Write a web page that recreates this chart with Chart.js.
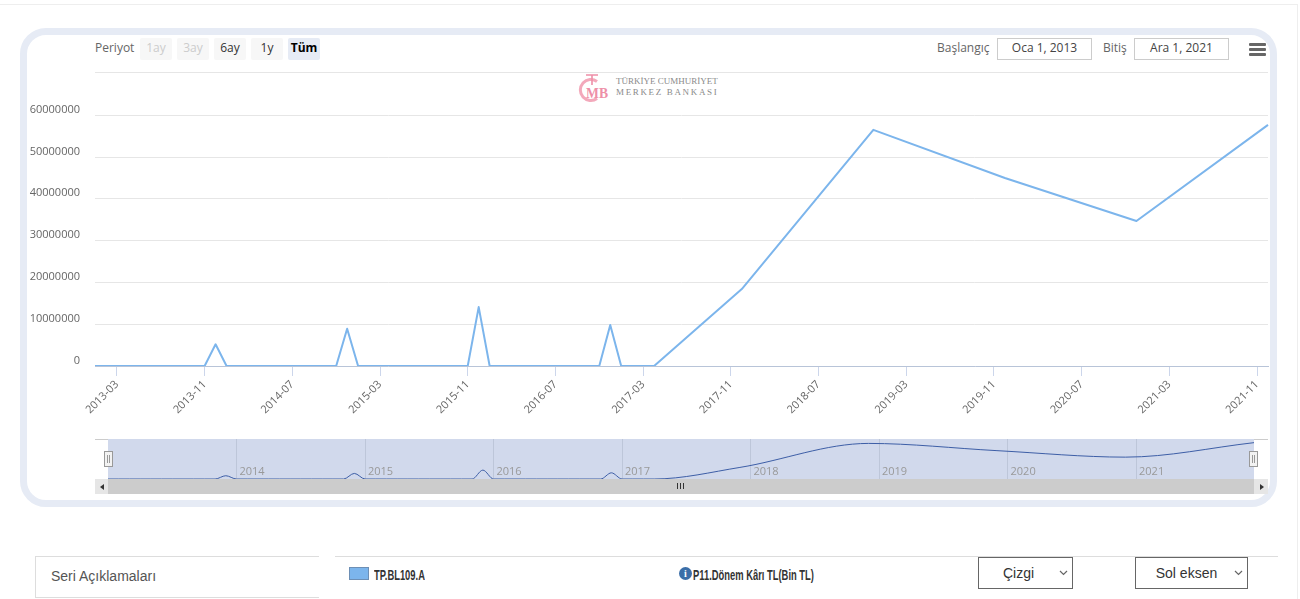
<!DOCTYPE html>
<html lang="tr">
<head>
<meta charset="utf-8">
<title>TP.BL109.A</title>
<script src="https://cdn.jsdelivr.net/npm/chart.js@4"></script>
<style>
  html, body { margin: 0; padding: 0; background: #fff; overflow: hidden; }
  body { width: 1300px; height: 599px; position: relative; font-family: "Open Sans", sans-serif; font-size: 12px; color: #666; }
  .abs { position: absolute; box-sizing: border-box; }
  canvas { position: absolute; left: 0; }
  .btn { top: 38px; width: 32px; height: 22px; line-height: 20px; text-align: center; background: #f7f7f7; color: #333; border-radius: 2px; }
  .btn.off { color: #ccc; }
  .btn.on { background: #e6ebf5; color: #000; font-weight: 700; }
  .date { top: 38px; height: 22px; width: 95px; line-height: 18px; text-align: center; border: 1px solid #ccc; color: #444; }
  .bar { left: 1249px; width: 17px; height: 3px; background: #666; border-radius: 1px; }
  .narrow { font: 700 14px "Liberation Sans", sans-serif; color: #333; top: 567px; white-space: nowrap; transform: scaleX(0.67); transform-origin: left center; }
  select {
    position: absolute; top: 557px; height: 32px; box-sizing: border-box; background: #fff; border: 1px solid #666; color: #333;
    font: 14px "Liberation Sans", sans-serif; text-align: center; text-align-last: center; border-radius: 0;
    appearance: none; -webkit-appearance: none;
    background-image: url("data:image/svg+xml,%3Csvg xmlns='http://www.w3.org/2000/svg' width='9' height='6'%3E%3Cpath d='M1 1l3.5 3.5L8 1' fill='none' stroke='%23666' stroke-width='1.2'/%3E%3C/svg%3E");
    background-repeat: no-repeat; background-position: right 4px center;
  }
</style>
</head>
<body>
<div class="abs" style="left:0;top:4px;width:1297px;height:1px;background:#eee"></div>
<div class="abs" style="left:1297px;top:4px;width:1px;height:595px;background:#eee"></div>
<div class="abs" style="left:20px;top:28px;width:1257px;height:479px;border:7px solid #e6ebf5;border-radius:26px"></div>

<div class="abs" style="left:95px;top:39px">Periyot</div>
<div class="abs btn off" style="left:140px">1ay</div>
<div class="abs btn off" style="left:177px">3ay</div>
<div class="abs btn" style="left:214px">6ay</div>
<div class="abs btn" style="left:251px">1y</div>
<div class="abs btn on" style="left:288px">Tüm</div>
<div class="abs" style="left:937px;top:39px">Başlangıç</div>
<div class="abs date" style="left:997px">Oca 1, 2013</div>
<div class="abs" style="left:1103px;top:39px">Bitiş</div>
<div class="abs date" style="left:1134px">Ara 1, 2021</div>
<div class="abs bar" style="top:43px"></div>
<div class="abs bar" style="top:48px"></div>
<div class="abs bar" style="top:53px"></div>

<!-- top line of the plot, sits a little above where 70M would be -->
<div class="abs" style="left:95px;top:72px;width:1173px;height:1px;background:#e6e6e6"></div>

<!-- logo watermark -->
<svg class="abs" style="left:578px;top:72px" width="32" height="32" viewBox="0 0 32 32">
  <path d="M19 9.5 A10.5 10.5 0 1 0 19 26.5" fill="none" stroke="#f3a9bb" stroke-width="3"/>
  <path d="M8 3 H20 M14 3 V13" fill="none" stroke="#ee8fa8" stroke-width="1.6"/>
  <text x="19" y="26" font-family="Liberation Serif" font-size="14" font-weight="700" fill="#ee8fa8" text-anchor="middle" textLength="22" lengthAdjust="spacingAndGlyphs">MB</text>
</svg>
<div class="abs" style="left:616px;top:76px;font:9px/11px 'Liberation Serif',serif;color:#8a8a8a;white-space:nowrap">TÜRKİYE CUMHURİYET<br><span style="letter-spacing:1.65px">MERKEZ BANKASI</span></div>

<canvas id="mainChart" width="1300" height="430" style="top:0"></canvas>

<!-- navigator background, canvas sits over it -->
<div class="abs" style="left:95px;top:439px;width:1173px;height:1px;background:#ccc"></div>
<div class="abs" style="left:108px;top:439px;width:1146px;height:40px;background:#d1d9ec"></div>
<canvas id="navChart" width="1300" height="60" style="top:430px"></canvas>

<!-- scrollbar -->
<div class="abs" style="left:108px;top:479px;width:1146px;height:15px;background:#ccc"></div>
<div class="abs" style="left:95px;top:479px;width:13px;height:15px;background:#e6e6e6"></div>
<div class="abs" style="left:1254px;top:479px;width:14px;height:15px;background:#e6e6e6"></div>
<div class="abs" style="left:100px;top:484px;border:3px solid transparent;border-right:4px solid #333;border-left:0"></div>
<div class="abs" style="left:1260px;top:484px;border:3px solid transparent;border-left:4px solid #333;border-right:0"></div>
<div class="abs" style="left:677px;top:483px;width:7px;height:6px;border-left:1px solid #333;border-right:1px solid #333"></div>
<div class="abs" style="left:680px;top:483px;width:1px;height:6px;background:#333"></div>
<div class="abs" style="left:104px;top:451px;width:9px;height:16px;background:#f2f2f2;border:1px solid #999"></div>
<div class="abs" style="left:107px;top:455px;width:3px;height:8px;border-left:1px solid #999;border-right:1px solid #999"></div>
<div class="abs" style="left:1249px;top:451px;width:9px;height:16px;background:#f2f2f2;border:1px solid #999"></div>
<div class="abs" style="left:1252px;top:455px;width:3px;height:8px;border-left:1px solid #999;border-right:1px solid #999"></div>

<!-- series row -->
<div class="abs" style="left:35px;top:556px;width:284px;height:42px;border:1px solid #ddd;border-right:0;font:14px/38px 'Liberation Sans',sans-serif;color:#555;padding-left:15px">Seri Açıklamaları</div>
<div class="abs" style="left:335px;top:556px;width:943px;height:1px;background:#ddd"></div>
<div class="abs" style="left:349px;top:567px;width:20px;height:13px;background:#7cb5ec;border:1px solid #6d8fb5"></div>
<div class="abs narrow" style="left:374px">TP.BL109.A</div>
<div class="abs" style="left:679px;top:567px;width:13px;height:13px;border-radius:50%;background:#3b6ea8;color:#fff;font:700 10px/13px 'Liberation Serif',serif;text-align:center">i</div>
<div class="abs narrow" style="left:693px">P11.Dönem Kârı TL(Bin TL)</div>
<select style="left:978px;width:95px;padding-right:14px"><option>Çizgi</option></select>
<select style="left:1135px;width:113px;padding-right:10px"><option>Sol eksen</option></select>

<script>
const FONT = '"Open Sans", sans-serif';

const categories = [
  '2013-01','2013-02','2013-03','2013-04','2013-05','2013-06','2013-07','2013-08','2013-09','2013-10','2013-11','2013-12',
  '2014-01','2014-02','2014-03','2014-04','2014-05','2014-06','2014-07','2014-08','2014-09','2014-10','2014-11','2014-12',
  '2015-01','2015-02','2015-03','2015-04','2015-05','2015-06','2015-07','2015-08','2015-09','2015-10','2015-11','2015-12',
  '2016-01','2016-02','2016-03','2016-04','2016-05','2016-06','2016-07','2016-08','2016-09','2016-10','2016-11','2016-12',
  '2017-01','2017-02','2017-03','2017-04','2017-05','2017-06','2017-07','2017-08','2017-09','2017-10','2017-11','2017-12',
  '2018-01','2018-02','2018-03','2018-04','2018-05','2018-06','2018-07','2018-08','2018-09','2018-10','2018-11','2018-12',
  '2019-01','2019-02','2019-03','2019-04','2019-05','2019-06','2019-07','2019-08','2019-09','2019-10','2019-11','2019-12',
  '2020-01','2020-02','2020-03','2020-04','2020-05','2020-06','2020-07','2020-08','2020-09','2020-10','2020-11','2020-12',
  '2021-01','2021-02','2021-03','2021-04','2021-05','2021-06','2021-07','2021-08','2021-09','2021-10','2021-11','2021-12'
];

// P11 donem kari, bin TL. null = no value that month, the line just spans it
const seriesValues = [
  0,0,0,0,0,0,0,0,0,0,0,5200000,
  0,0,0,0,0,0,0,0,0,0,0,8900000,
  0,0,0,0,0,0,0,0,0,0,0,14100000,
  0,0,0,0,0,0,0,0,0,0,0,9800000,
  0,0,0,0,null,null,null,null,null,null,null,18400000,
  null,null,null,null,null,null,null,null,null,null,null,56500000,
  null,null,null,null,null,null,null,null,null,null,null,45000000,
  null,null,null,null,null,null,null,null,null,null,null,34700000,
  null,null,null,null,null,null,null,null,null,null,null,57700000
];

const xTickLabels = ['2013-03','2013-11','2014-07','2015-03','2015-11','2016-07','2017-03','2017-11','2018-07','2019-03','2019-11','2020-07','2021-03','2021-11'];
const yTickValues = [0,10000000,20000000,30000000,40000000,50000000,60000000];
const navTickLabels = ['2014-01','2015-01','2016-01','2017-01','2018-01','2019-01','2020-01','2021-01'];

new Chart(document.getElementById('mainChart'), {
  type: 'line',
  data: {
    labels: categories,
    datasets: [{
      label: 'TP.BL109.A',
      data: seriesValues,
      borderColor: '#7cb5ec',
      borderWidth: 2,
      borderJoinStyle: 'round',
      pointRadius: 0,
      spanGaps: true,
      tension: 0
    }]
  },
  options: {
    responsive: false,
    animation: false,
    layout: { padding: { left: 0, right: 32, top: 72, bottom: 0 } },
    plugins: { legend: { display: false }, tooltip: { enabled: false } },
    scales: {
      x: {
        offset: false,
        grid: { drawOnChartArea: false, tickLength: 10, color: '#ccd6eb' },
        border: { display: true, color: '#b8c4d8' },
        ticks: { autoSkip: false, minRotation: 45, maxRotation: 45, padding: 2, color: '#666', font: { family: FONT, size: 11 } },
        afterBuildTicks: (scale) => {
          scale.ticks = scale.ticks.filter(t => xTickLabels.includes(categories[t.value]));
        },
        afterFit: (scale) => { scale.height = 64; }
      },
      y: {
        min: 0,
        max: 70350000,
        grid: { color: '#e6e6e6', drawTicks: false },
        border: { display: false },
        ticks: { align: 'end', padding: 15, color: '#666', font: { family: FONT, size: 11 }, callback: (value) => String(value) },
        afterBuildTicks: (scale) => {
          scale.ticks = yTickValues.map(v => ({ value: v }));
        },
        afterFit: (scale) => { scale.width = 95; }
      }
    }
  }
});

new Chart(document.getElementById('navChart'), {
  type: 'line',
  data: {
    labels: categories,
    datasets: [{
      data: seriesValues,
      borderColor: '#3d5ea6',
      borderWidth: 1,
      pointRadius: 0,
      spanGaps: true,
      cubicInterpolationMode: 'monotone'
    }]
  },
  options: {
    responsive: false,
    animation: false,
    layout: { padding: { left: 108, right: 46, top: 9, bottom: 11 } },
    plugins: { legend: { display: false }, tooltip: { enabled: false } },
    scales: {
      x: {
        // axis pinned inside the plot so the year labels are not clipped to a zero height box
        position: { y: 22000000 },
        offset: false,
        grid: { drawTicks: false, color: 'rgba(90,100,120,0.16)' },
        border: { display: false },
        ticks: {
          autoSkip: false, maxRotation: 0, align: 'start', padding: 0, color: '#999',
          font: { family: FONT, size: 11 },
          callback: (value) => '\u00a0' + categories[value].slice(0, 4)
        },
        afterBuildTicks: (scale) => {
          scale.ticks = scale.ticks.filter(t => navTickLabels.includes(categories[t.value]));
        }
      },
      y: { display: false, min: 0, max: 63500000 }
    }
  }
});
</script>
</body>
</html>
